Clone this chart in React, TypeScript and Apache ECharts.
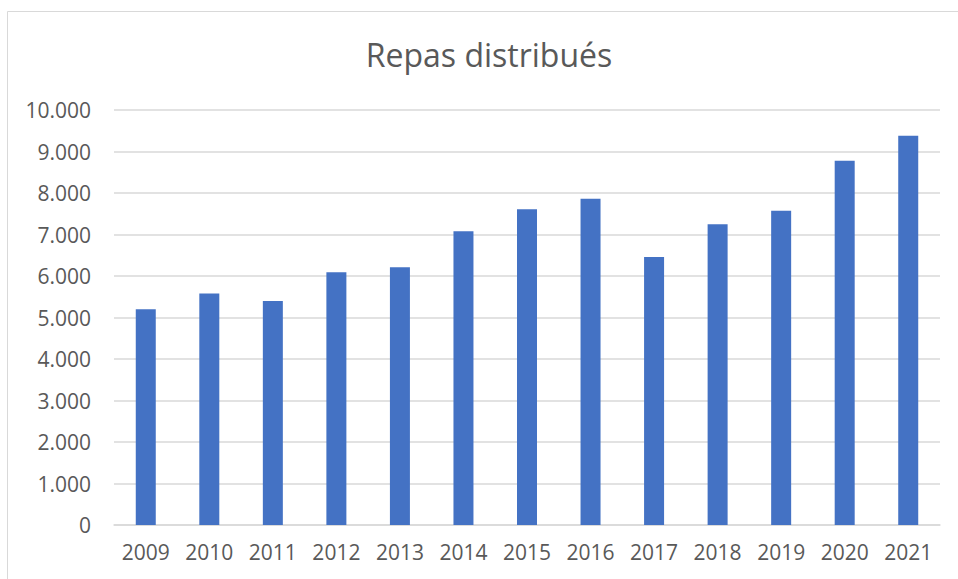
import React, { useEffect, useRef } from "react";
import * as echarts from "echarts";

const years = ["2009", "2010", "2011", "2012", "2013", "2014", "2015", "2016", "2017", "2018", "2019", "2020", "2021"];
const meals = [5200, 5580, 5400, 6090, 6210, 7080, 7610, 7860, 6460, 7250, 7570, 8780, 9380];
const chartTitle = "Repas distribués";

const FONT = "'Open Sans', sans-serif";
const TEXT = "#595959";

export default function App() {
  const ref = useRef<HTMLDivElement>(null);
  useEffect(() => {
    if (!ref.current) return;
    const chart = echarts.init(ref.current, undefined, { renderer: "svg" });
    chart.setOption({
      animation: false,
      backgroundColor: "#ffffff",
      title: {
        text: chartTitle,
        left: 484,
        textAlign: "center",
        top: 33,
        textStyle: { fontFamily: FONT, fontSize: 32, fontWeight: "normal", color: TEXT },
      },
      graphic: [
        {
          type: "rect",
          shape: { x: 7.5, y: 11.5, width: 1000, height: 1000 },
          style: { fill: "none", stroke: "#D9D9D9", lineWidth: 1 },
          silent: true,
        },
      ],
      grid: { left: 114, right: 18, top: 110, bottom: 54, containLabel: false },
      xAxis: {
        type: "category",
        data: years,
        axisTick: { show: false },
        axisLine: { show: true, lineStyle: { color: "#D9D9D9", width: 1.5 } },
        axisLabel: { color: TEXT, fontFamily: FONT, fontSize: 21, margin: 16 },
      },
      yAxis: {
        type: "value",
        min: 0,
        max: 10000,
        interval: 1000,
        axisLine: { show: false },
        axisTick: { show: false },
        splitLine: { lineStyle: { color: "#D9D9D9", width: 1.5 } },
        axisLabel: {
          color: TEXT,
          fontFamily: FONT,
          fontSize: 21,
          margin: 23,
          formatter: (v: number) => (v === 0 ? "0" : v.toLocaleString("de-DE")),
        },
      },
      series: [
        {
          type: "bar",
          data: meals,
          barWidth: 20,
          itemStyle: { color: "#4472C4" },
        },
      ],
    });
    return () => chart.dispose();
  }, []);
  return <div ref={ref} style={{ position: "fixed", left: 0, top: 0, width: 958, height: 579 }} />;
}
